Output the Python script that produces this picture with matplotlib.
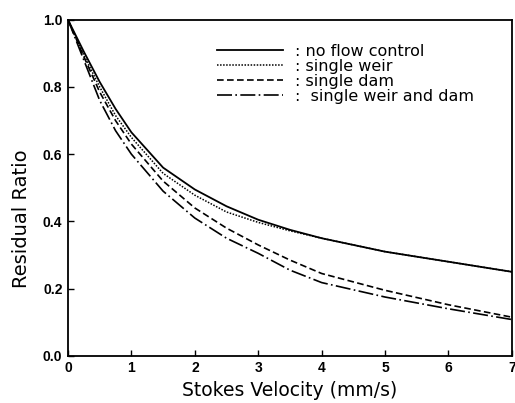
import numpy as np
import matplotlib.pyplot as plt

plt.rcParams['font.family'] = ['DejaVu Sans']

# stokes velocity (mm/s)
velocity = [0, 0.25, 0.5, 0.75, 1, 1.5, 2, 2.5, 3, 3.5, 4, 5, 6, 7]

# residual ratio
no_flow_control = [1.0, 0.905, 0.815, 0.735, 0.665, 0.56, 0.495, 0.445, 0.405, 0.375, 0.35, 0.31, 0.28, 0.25]
single_weir = [1.0, 0.895, 0.80, 0.715, 0.65, 0.543, 0.478, 0.428, 0.397, 0.372, 0.35, 0.31, 0.28, 0.25]
single_dam = [1.0, 0.89, 0.785, 0.70, 0.63, 0.52, 0.44, 0.38, 0.33, 0.285, 0.245, 0.195, 0.152, 0.115]
weir_and_dam = [1.0, 0.88, 0.76, 0.67, 0.60, 0.49, 0.41, 0.35, 0.305, 0.255, 0.218, 0.175, 0.14, 0.108]

labels = [': no flow control', ': single weir', ': single dam', ':  single weir and dam']

fig = plt.figure(figsize=(5.15, 4.03), dpi=100)
ax = fig.add_axes([0.132, 0.117, 0.862, 0.834])

ax.plot(velocity, no_flow_control, color='black', lw=1.3, ls='-', label=labels[0])
ax.plot(velocity, single_weir, color='black', lw=1.1, ls=(0, (1, 1)), label=labels[1])
ax.plot(velocity, single_dam, color='black', lw=1.2, ls=(0, (4, 2)), label=labels[2])
ax.plot(velocity, weir_and_dam, color='black', lw=1.2, ls=(0, (9, 2, 1, 2)), label=labels[3])

ax.set_xlim(0, 7)
ax.set_ylim(0, 1.0)
ax.set_xticks(range(8))
ax.set_yticks([0.0, 0.2, 0.4, 0.6, 0.8, 1.0])
ax.set_yticklabels(['0.0', '0.2', '0.4', '0.6', '0.8', '1.0'])
ax.tick_params(direction='in', length=4, width=1, labelsize=10, pad=4)
for lab in ax.get_xticklabels() + ax.get_yticklabels():
    lab.set_family(['Liberation Sans', 'DejaVu Sans'])
    lab.set_fontweight('bold')
for s in ax.spines.values():
    s.set_linewidth(1.3)

ax.set_xlabel('Stokes Velocity (mm/s)', fontsize=13.5, labelpad=4)
ax.set_ylabel('Residual Ratio', fontsize=14)
ax.yaxis.set_label_coords(-0.084, 0.408)

ax.legend(loc='upper left', bbox_to_anchor=(0.336, 0.929), frameon=False, fontsize=11.5,
          borderpad=0, borderaxespad=0, handlelength=4.1, handletextpad=0.8,
          labelspacing=0.0)

fig.savefig('out.png', dpi=100)
